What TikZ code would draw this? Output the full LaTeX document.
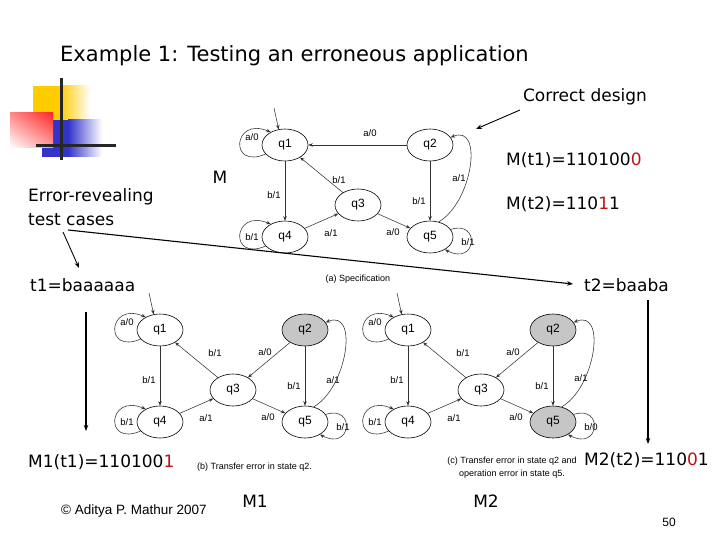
\documentclass[tikz,border=0pt]{standalone}
\usepackage{fontspec}
\setmainfont{DejaVu Sans}
\newfontfamily\arialf{Liberation Sans}
\usetikzlibrary{shapes.geometric,arrows.meta,shadings}
\definecolor{errred}{RGB}{192,16,16}
\definecolor{logoY}{RGB}{255,204,0}
\definecolor{logoB}{RGB}{51,51,204}
\definecolor{logoR}{RGB}{255,40,40}
\tikzset{
  fsmstate/.style={ellipse, draw=black, line width=0.6pt, minimum width=46pt, minimum height=32pt, inner sep=0pt, font=\arialf\fontsize{12}{12}\selectfont},
  fsmgray/.style={fsmstate, fill=gray!45},
  elab/.style={font=\arialf\fontsize{9.5}{9.5}\selectfont, inner sep=0pt},
  trans/.style={draw=black!80, line width=0.55pt, -{Stealth[length=4.5pt,width=3.5pt]}},
  bigtxt/.style={font=\fontsize{17}{20}\selectfont, inner sep=0pt},
  bigarrow/.style={line width=1.1pt, -{Stealth[length=6pt,width=4.5pt]}},
  captxt/.style={font=\arialf\fontsize{9}{13}\selectfont, inner sep=0pt}
}
\newcommand\fsm[8]{%
\begin{scope}[shift={(#2,#3)}]
  \node[fsmstate] (#1q1) at (0,0) {q1};
  \node[#4] (#1q2) at (145,0) {q2};
  \node[fsmstate] (#1q3) at (73,60) {q3};
  \node[fsmstate] (#1q4) at (0,92) {q4};
  \node[#5] (#1q5) at (145,92) {q5};
  \coordinate (#1init) at (-11,-37);
  \draw[trans] (#1init) -- (#1q1.112);
  \draw[trans] (#1q1.205) .. controls +(-37,16) and +(-38,-16) .. (#1q1.138);
  \node[elab] (#1l1) at (-33,-8) {a/0};
  \draw[trans] (#1q4.205) .. controls +(-37,16) and +(-38,-16) .. (#1q4.138);
  \node[elab] (#1l2) at (-33,92) {b/1};
  \draw[trans] (#1q1) -- (#1q4);
  \node[elab] (#1l3) at (-11,50) {b/1};
  \draw[trans] (#1q3) -- (#1q1);
  \node[elab] (#1l4) at #7 {b/1};
  \draw[trans] (#1q4) -- (#1q3);
  \node[elab] (#1l5) at (46,88) {a/1};
  \draw[trans] (#1q3) -- (#1q5);
  \node[elab] (#1l6) at (108,87) {a/0};
  \draw[trans] (#1q2) -- (#1q5);
  \node[elab] (#1l7) at (134,56) {b/1};
  \draw[trans] (#1q5.60) .. controls +(34,-20) and +(33,-14) .. (#1q2.20);
  \node[elab] (#1l8) at #8 {a/1};
  \draw[trans] (#1q5.20) .. controls +(30,-10) and +(32,17) .. (#1q5.-40);
  \node[elab] (#1l9) at (183,97) {#6};
\end{scope}}
\begin{document}
\begin{tikzpicture}[x=1pt,y=-1pt]
\fill[white] (0,0) rectangle (720,540);
\useasboundingbox (0,0) rectangle (720,540);
% logo
\fill[logoY] (33,86) rectangle (60,120);
\shade[left color=logoY, right color=white] (60,86) rectangle (90,120);
\fill[logoB] (42,120) rectangle (68,157);
\shade[left color=logoB, right color=white] (68,120) rectangle (102,157);
\shade[upper right=logoR, lower left=white, upper left=logoR!55!white, lower right=logoR!45!white] (10,113) rectangle (53,148);
\draw[line width=3pt, black!85] (61,78) -- (61,160);
\draw[line width=3pt, black!85] (36,146) -- (116,146);
% title
\node[anchor=west, inner sep=0pt, font=\fontsize{21}{24}\selectfont] (title) at (60,56) {Example 1: Testing an erroneous application};
% texts
\node[bigtxt] (correct) at (585,97) {Correct design};
\node[bigtxt, anchor=west] (mt1) at (506,160) {M(t1)=110100\textcolor{errred}{0}};
\node[bigtxt, anchor=west] (mt2) at (506,204) {M(t2)=110\textcolor{errred}{1}1};
\node[bigtxt] (mlab) at (220,177) {M};
\node[bigtxt, anchor=west] (err1) at (28,197) {Error-revealing};
\node[bigtxt, anchor=west] (err2) at (28,220) {test cases};
\node[bigtxt, anchor=west] (t1) at (30,285) {t1=baaaaaa};
\node[bigtxt, anchor=west] (t2) at (584,285) {t2=baaba};
\node[bigtxt, anchor=west] (m1t1) at (28,462) {M1(t1)=110100\textcolor{errred}{1}};
\node[bigtxt, anchor=west] (m2t2) at (584,460) {M2(t2)=110\textcolor{errred}{0}1};
\node[bigtxt] (m1lab) at (255,501) {M1};
\node[bigtxt] (m2lab) at (486,501) {M2};
\node[captxt] (capa) at (358,279) {(a) Specification};
\node[captxt, anchor=west] (capb) at (197,467) {(b) Transfer error in state q2.};
\node[captxt, align=center] (capc) at (512,468) {(c) Transfer error in state q2 and\\operation error in state q5.};
\node[inner sep=0pt, font=\arialf\fontsize{13.5}{16}\selectfont] (copy) at (134,511) {\textcopyright{} Aditya P. Mathur 2007};
\node[inner sep=0pt, font=\arialf\fontsize{12}{14}\selectfont] (page) at (669,522) {50};
% arrows
\coordinate (cdstart) at (520,110);
\coordinate (cdtip) at (476,129);
\draw[bigarrow, line width=0.9pt] (cdstart) -- (cdtip);
\coordinate (tcstart) at (68,230);
\coordinate (t2tip) at (573,284);
\draw[bigarrow] (tcstart) -- (t2tip);
\coordinate (tcstart2) at (63,232);
\coordinate (t1tip) at (79,268);
\draw[bigarrow, line width=0.9pt] (tcstart2) -- (t1tip);
\coordinate (v1a) at (86,312);
\coordinate (v1b) at (86,431);
\draw[bigarrow] (v1a) -- (v1b);
\coordinate (v2a) at (648,300);
\coordinate (v2b) at (648,444);
\draw[bigarrow] (v2a) -- (v2b);
% machines
\fsm{a}{285}{145}{fsmstate}{fsmstate}{b/1}{(54,35)}{(174,33)}
\draw[trans] (aq2) -- (aq1);
\node[elab] (al0) at (370,133) {a/0};
\fsm{b}{160}{330}{fsmgray}{fsmstate}{b/1}{(55,23)}{(173,50)}
\draw[trans] (bq2) -- (bq3);
\node[elab] (bl0) at (265,352) {a/0};
\fsm{c}{408}{330}{fsmgray}{fsmgray}{b/0}{(55,23)}{(173,48)}
\draw[trans] (cq2) -- (cq3);
\node[elab] (cl0) at (513,352) {a/0};
\end{tikzpicture}
\end{document}
